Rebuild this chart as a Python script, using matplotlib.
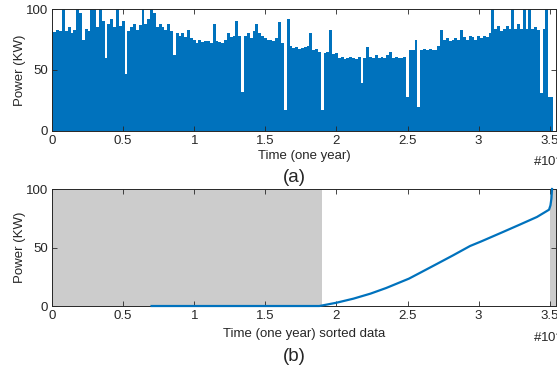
import numpy as np
import matplotlib
matplotlib.use("Agg")
import matplotlib.pyplot as plt

plt.rcParams["font.family"] = ["Liberation Sans", "DejaVu Sans"]

# (a) one year of power readings
# time step between readings, in units of 1e4 samples
step_1e4 = 0.02
power_kw = [
    82, 81, 83, 82, 100, 82, 85, 80, 83, 100, 97, 75, 84, 82, 100, 100, 85, 100, 90, 60,
    88, 92, 85, 100, 86, 90, 47, 82, 85, 88, 83, 87, 100, 88, 92, 100, 97, 85, 88, 85,
    83, 88, 82, 62, 80, 78, 80, 77, 83, 76, 75, 72, 75, 73, 74, 74, 72, 88, 74, 73,
    72, 75, 80, 77, 78, 90, 78, 32, 78, 80, 76, 82, 88, 80, 78, 76, 75, 75, 74, 76,
    89, 72, 17, 92, 70, 68, 69, 67, 68, 69, 70, 80, 66, 67, 65, 17, 64, 65, 83, 63,
    64, 60, 61, 59, 60, 61, 60, 59, 61, 39, 60, 69, 61, 60, 62, 60, 61, 60, 62, 65,
    60, 61, 60, 60, 61, 28, 66, 66, 75, 20, 66, 67, 66, 67, 66, 66, 70, 83, 75, 76,
    74, 75, 76, 75, 83, 77, 75, 78, 77, 75, 78, 76, 78, 77, 80, 100, 84, 86, 82, 84,
    86, 84, 100, 84, 88, 84, 100, 84, 100, 84, 85, 83, 31, 84, 100, 28, 28,
]

# (b) the same readings sorted
sorted_t_1e4 = [0.70, 1.00, 1.50, 1.88, 2.00, 2.12, 2.24, 2.35, 2.51, 2.59, 2.71,
                2.82, 2.94, 3.02, 3.17, 3.29, 3.41, 3.495, 3.505, 3.512, 3.516]
sorted_kw = [0, 0, 0, 0, 2.8, 6.3, 10.6, 15.4, 23.4, 28.5, 36.2,
             43.3, 51.3, 55.3, 63.2, 69.6, 76.1, 82.3, 86, 92, 100]
shade_ranges = [(0, 1.90), (3.503, 3.6)]

x_ticks = [0, 0.5, 1, 1.5, 2, 2.5, 3, 3.5]
x_tick_labels = ["0", "0.5", "1", "1.5", "2", "2.5", "3", "3.5"]
y_ticks = [0, 50, 100]

blue = "#0072BD"
axis_col = "#262626"

fig = plt.figure(figsize=(5.57, 3.69), dpi=100)
ax_a = fig.add_axes([0.0934, 0.645, 0.9048, 0.3306])
ax_b = fig.add_axes([0.0934, 0.1707, 0.9048, 0.3171])


def style_axes(ax, xlabel, xlabel_y, tag, tag_y, exp_y):
    ax.set_xlim(0, 3.544)
    ax.set_ylim(0, 100)
    ax.set_xticks(x_ticks)
    ax.set_xticklabels(x_tick_labels)
    ax.set_yticks(y_ticks)
    ax.tick_params(direction="in", length=3.5, width=0.6, colors=axis_col,
                   labelsize=9.5, top=True, right=True, pad=3)
    for s in ax.spines.values():
        s.set_color(axis_col)
        s.set_linewidth(0.7)
    ax.set_ylabel("Power (KW)", fontsize=9.5, color=axis_col)
    ax.yaxis.set_label_coords(-0.052, 0.5)
    ax.set_xlabel(xlabel, fontsize=9.5, color=axis_col)
    ax.xaxis.set_label_coords(0.5, xlabel_y)
    ax.text(0.954, exp_y, "#10$^4$", transform=ax.transAxes,
            fontsize=9.5, color=axis_col, ha="left", va="center")
    ax.text(0.48, tag_y, tag, transform=ax.transAxes, fontsize=13.5,
            color=axis_col, ha="center", va="center")


# (a)
t = np.arange(len(power_kw)) * step_1e4
ax_a.fill_between(t, 0, power_kw, step="mid", color=blue, lw=0)
style_axes(ax_a, "Time (one year)", -0.155, "(a)", -0.38, -0.245)

# (b)
for lo, hi in shade_ranges:
    ax_b.axvspan(lo, hi, color="#CCCCCC", lw=0, zorder=0)
ax_b.plot(sorted_t_1e4, sorted_kw, color=blue, lw=1.6, zorder=3, clip_on=False)
style_axes(ax_b, "Time (one year) sorted data", -0.185, "(b)", -0.43, -0.265)

fig.savefig("out.png", dpi=100)
